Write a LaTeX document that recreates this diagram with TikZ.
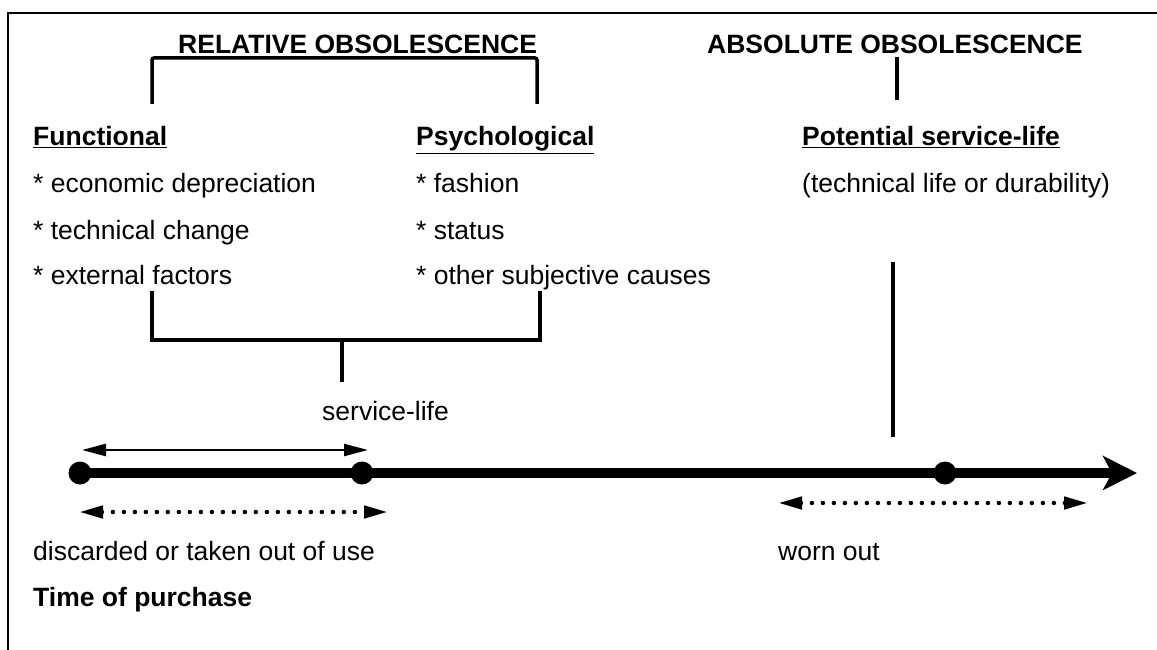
\documentclass[tikz,border=0pt]{standalone}
\usepackage{fontspec}
\setmainfont{Liberation Sans}
\usetikzlibrary{arrows.meta}

\begin{document}
\begin{tikzpicture}[x = 1pt, y = -1pt, font = \fontsize{26.5}{30}\selectfont,
		txt/.style = {anchor = base west, inner sep = 0pt},
		heading/.style = {txt, font = \fontsize{26.5}{30}\selectfont\bfseries},
		dot/.style = {circle, fill = black, inner sep = 0pt, minimum size = 23pt}]
		\def\mylinewidth{3.5pt}
		\def\mytimewidth{10pt}
		%--------------------

		\useasboundingbox (0,0) rectangle (1157,650);
		\draw[line width = 1.5pt] (8,650) -- (8,13) -- (1157,13);

		\node[heading] (relative) at (178,54) {RELATIVE OBSOLESCENCE};
		\node[heading] (absolute) at (707,54) {ABSOLUTE OBSOLESCENCE};

		\coordinate (relL) at (152,104);
		\coordinate (relLtop) at (152,58);
		\coordinate (relRtop) at (537,58);
		\coordinate (relR) at (537,104);
		\draw[line width = \mylinewidth, rounded corners = 2pt] (relL) -- (relLtop) -- (relRtop) -- (relR);

		\coordinate (absTop) at (897,57);
		\coordinate (absBot) at (897,100);
		\draw[line width = \mylinewidth] (absTop) -- (absBot);

		%--------------------
		\node[heading] (functional) at (33,146) {\underline{Functional}};
		\node[txt] (econ) at (33,193) {* economic depreciation};
		\node[txt] (techn) at (33,239) {* technical change};
		\node[txt] (ext) at (33,284) {* external factors};

		\node[heading] (psycho) at (416,146) {\underline{Psychological}};
		\node[txt] (fashion) at (416,193) {* fashion};
		\node[txt] (status) at (416,239) {* status};
		\node[txt] (subj) at (416,284) {* other subjective causes};

		\node[heading] (potential) at (802,146) {\underline{Potential service-life}};
		\node[txt] (durab) at (802,193) {(technical life or durability)};

		%--------------------
		\coordinate (botL) at (152,291);
		\coordinate (botLlow) at (152,340);
		\coordinate (botRlow) at (540,340);
		\coordinate (botR) at (540,291);
		\coordinate (stemTop) at (342,340);
		\coordinate (stemBot) at (342,382);
		\draw[line width = \mylinewidth] (botL) -- (botLlow) -- (botRlow) -- (botR);
		\draw[line width = \mylinewidth] (stemTop) -- (stemBot);
		\node[txt] (servlife) at (322,420) {service-life};

		\coordinate (potTop) at (893,262);
		\coordinate (potBot) at (893,437);
		\draw[line width = \mylinewidth] (potTop) -- (potBot);

		%--------------------
		\node[dot] (purchase) at (80,473) {};
		\node[dot] (discard) at (362,473) {};
		\node[dot] (wornpt) at (945,473) {};
		\coordinate (tip) at (1137,473);
		\draw[line width = \mytimewidth, -{Stealth[length = 34pt, width = 34pt, inset = 9pt]}] (purchase.center) -- (tip);

		\coordinate (spanL) at (82,450);
		\coordinate (spanR) at (368,450);
		\draw[line width = 2.5pt, {Triangle[length = 24pt, width = 12pt]}-{Triangle[length = 24pt, width = 12pt]}] (spanL) -- (spanR);

		\coordinate (relSpanL) at (79,512);
		\coordinate (relSpanR) at (388,512);
		\draw[line width = 4.5pt, line cap = round, dash pattern = on 0pt off 11pt,
			{Triangle[length = 24pt, width = 12pt]}-{Triangle[length = 24pt, width = 12pt]}] (relSpanL) -- (relSpanR);

		\coordinate (absSpanL) at (778,503);
		\coordinate (absSpanR) at (1088,503);
		\draw[line width = 4.5pt, line cap = round, dash pattern = on 0pt off 11pt,
			{Triangle[length = 24pt, width = 12pt]}-{Triangle[length = 24pt, width = 12pt]}] (absSpanL) -- (absSpanR);

		\node[txt] (discarded) at (33,560) {discarded or taken out of use};
		\node[txt] (worn) at (778,560) {worn out};
		\node[heading] (time) at (33,606) {Time of purchase};
	\end{tikzpicture}
\end{document}
